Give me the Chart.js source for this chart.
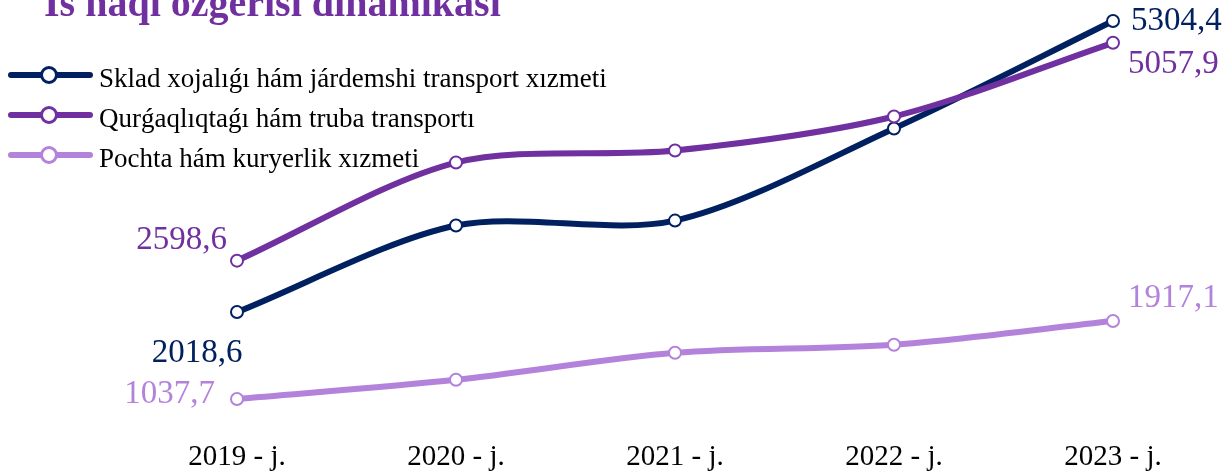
<!DOCTYPE html>
<html>
<head>
<meta charset="utf-8">
<script src="https://cdn.jsdelivr.net/npm/chart.js@4/dist/chart.umd.min.js"></script>
<style>
  html, body { margin: 0; padding: 0; background: #fff; }
  #wrap { width: 1223px; height: 473px; position: relative; }
</style>
</head>
<body>
<div id="wrap"><canvas id="chart" width="1223" height="473"></canvas></div>
<script>
const years = ["2019 - j.", "2020 - j.", "2021 - j.", "2022 - j.", "2023 - j."];
const sklad = [2018.6, 2995, 3051, 4091, 5304.4];
const qurgaq = [2598.6, 3706, 3842, 4226, 5057.9];
const pochta = [1037.7, 1254, 1559, 1650, 1917.1];
const seriesNames = [
  "Sklad xojalıǵı hám járdemshi transport xızmeti",
  "Qurǵaqlıqtaǵı hám truba transportı",
  "Pochta hám kuryerlik xızmeti"
];
const title = "Is haqı ózgerisi dinamikası";

const colors = ['#002060', '#7030A0', '#B383DC'];
const fmt = v => v.toFixed(1).replace('.', ',');

// where the end labels sit relative to their point
const labelPos = [
  { first: { dx: -40, dy: 41, align: 'center' }, last: { dx: 18, dy: 0, align: 'left' } },
  { first: { dx: -10, dy: -20, align: 'right' }, last: { dx: 15, dy: 22, align: 'left' } },
  { first: { dx: -22, dy: -5, align: 'right' }, last: { dx: 15, dy: -23, align: 'left' } }
];

const endLabels = {
  id: 'endLabels',
  afterDatasetsDraw(chart) {
    const ctx = chart.ctx;
    ctx.save();
    ctx.font = '33px "Liberation Serif"';
    ctx.textBaseline = 'middle';
    chart.data.datasets.forEach((ds, i) => {
      const pts = chart.getDatasetMeta(i).data;
      [['first', 0], ['last', pts.length - 1]].forEach(([k, idx]) => {
        const p = labelPos[i][k];
        ctx.fillStyle = colors[i];
        ctx.textAlign = p.align;
        ctx.fillText(fmt(ds.data[idx]), pts[idx].x + p.dx, pts[idx].y + p.dy);
      });
    });
    ctx.restore();
  }
};

const legendAndTitle = {
  id: 'legendAndTitle',
  afterDraw(chart) {
    const ctx = chart.ctx;
    ctx.save();
    ctx.fillStyle = '#7030A0';
    ctx.font = 'bold 40px "Liberation Serif"';
    ctx.textBaseline = 'alphabetic';
    ctx.fillText(title, 44, 16);

    seriesNames.forEach((name, i) => {
      const y = 75 + i * 40;
      ctx.strokeStyle = colors[i];
      ctx.lineWidth = 6;
      ctx.lineCap = 'round';
      ctx.beginPath();
      ctx.moveTo(11, y);
      ctx.lineTo(90, y);
      ctx.stroke();
      ctx.beginPath();
      ctx.arc(49, y, 7.5, 0, Math.PI * 2);
      ctx.fillStyle = '#fff';
      ctx.fill();
      ctx.lineWidth = 3;
      ctx.stroke();
      ctx.fillStyle = '#000';
      ctx.font = '27px "Liberation Serif"';
      ctx.textAlign = 'left';
      ctx.fillText(name, 99, y + 12);
    });
    ctx.restore();
  }
};

const mkSet = (label, data, i, order) => ({
  label: label,
  data: data,
  borderColor: colors[i],
  borderWidth: 6,
  pointRadius: 6,
  pointBorderWidth: 2,
  pointBackgroundColor: '#fff',
  pointBorderColor: colors[i],
  tension: 0.3,
  clip: false,
  order: order
});

new Chart(document.getElementById('chart'), {
  type: 'line',
  data: {
    labels: years,
    datasets: [
      mkSet(seriesNames[0], sklad, 0, 1),
      mkSet(seriesNames[1], qurgaq, 1, 0),
      mkSet(seriesNames[2], pochta, 2, 2)
    ]
  },
  options: {
    responsive: false,
    animation: false,
    devicePixelRatio: 1,
    layout: { padding: { left: 237, right: 110, top: 10, bottom: 0 } },
    plugins: { legend: { display: false }, tooltip: { enabled: false } },
    scales: {
      y: { display: false, min: 913, max: 5428 },
      x: {
        offset: false,
        grid: { display: false, drawTicks: false },
        border: { display: false },
        ticks: {
          color: '#000',
          padding: 30,
          maxRotation: 0,
          font: { family: '"Liberation Serif"', size: 29 }
        },
        afterFit(scale) { scale.height = 63; }
      }
    }
  },
  plugins: [endLabels, legendAndTitle]
});
</script>
</body>
</html>
